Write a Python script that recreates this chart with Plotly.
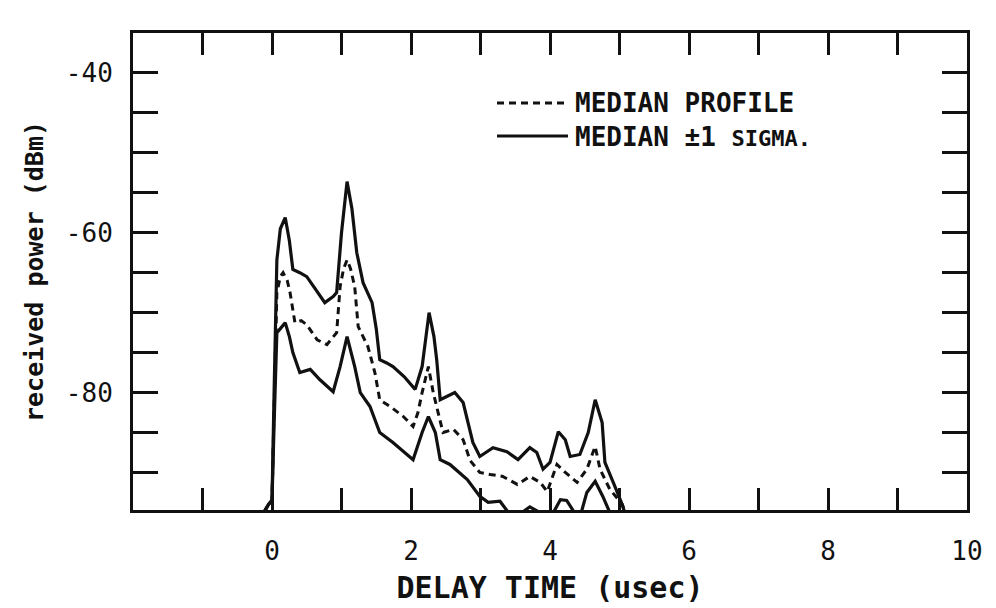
import plotly.graph_objects as go

# ---- data ----
delay_upper = [-0.6, -0.15, -0.05, 0.0, 0.03, 0.07, 0.12, 0.19, 0.25, 0.30, 0.40, 0.50, 0.62, 0.76, 0.88, 0.93,
               1.00, 1.08, 1.15, 1.22, 1.31, 1.44, 1.50, 1.55, 1.65, 1.74, 1.90, 2.06, 2.16, 2.26, 2.33, 2.37,
               2.42, 2.52, 2.63, 2.75, 2.89, 2.99, 3.18, 3.38, 3.54, 3.71, 3.81, 3.90, 4.00, 4.12, 4.22, 4.29,
               4.43, 4.55, 4.65, 4.75, 4.79, 4.91, 5.05, 5.10]
power_upper = [-96, -95.5, -94, -93.5, -80, -63.4, -59.5, -58.1, -61, -64.6, -65, -65.5, -67, -68.75, -68, -67.5,
               -60, -53.6, -57, -62.5, -66.25, -68.75, -72, -75.9, -76.3, -76.75, -78, -79.6, -76.75, -70, -73, -75.9,
               -80.9, -80.5, -80, -81.25, -86.25, -88, -86.9, -87.4, -88.4, -86.9, -87.5, -89.6, -88.75, -84.9, -85.9, -88,
               -87.75, -85, -80.9, -83.75, -88.75, -91.25, -94.25, -96]

delay_median = [-0.6, -0.15, -0.05, 0.0, 0.03, 0.07, 0.12, 0.16, 0.22, 0.26, 0.33, 0.42, 0.50, 0.65, 0.79, 0.93,
                0.98, 1.03, 1.08, 1.13, 1.19, 1.24, 1.38, 1.48, 1.55, 1.70, 1.89, 2.03, 2.10, 2.16, 2.25, 2.32,
                2.39, 2.46, 2.61, 2.75, 2.85, 2.99, 3.14, 3.32, 3.53, 3.71, 3.86, 3.96, 4.10, 4.22, 4.39, 4.53,
                4.65, 4.72, 4.86, 5.04, 5.10]
power_median = [-96, -95.5, -94, -93.5, -82, -67.5, -65.5, -65, -66, -67.5, -71.25, -71, -71.5, -73.4, -74, -72.5,
                -66.75, -64.5, -63.4, -64.5, -66.75, -71.75, -74.25, -77.5, -80.9, -81.75, -83, -84.25, -82.5, -80, -76.75, -80,
                -82.5, -85, -84.6, -85.9, -88.5, -90, -90.25, -90.5, -91.5, -90.5, -91.25, -92.4, -89, -90, -91.25, -89.6,
                -86.75, -89.6, -92.1, -94, -96]

delay_lower = [-0.6, -0.15, -0.05, 0.0, 0.03, 0.07, 0.12, 0.19, 0.25, 0.30, 0.40, 0.55, 0.69, 0.88, 0.98, 1.08,
               1.19, 1.27, 1.41, 1.55, 1.74, 2.03, 2.16, 2.25, 2.35, 2.42, 2.56, 2.75, 2.81, 2.99, 3.11, 3.28,
               3.40, 3.60, 3.71, 3.85, 4.05, 4.15, 4.24, 4.35, 4.45, 4.53, 4.65, 4.76, 4.86, 4.95]
power_lower = [-96, -95.5, -94, -93.5, -84, -72.5, -72, -71.25, -73, -75, -77.5, -77.1, -78.4, -79.9, -76.75, -73,
               -76.75, -80, -81.75, -85, -86.25, -88.4, -85, -83, -85, -88.4, -89, -90.5, -90.9, -93, -93.75, -93.6,
               -95, -95, -94.3, -95, -95, -93.4, -93.5, -95, -95, -92.5, -91.1, -93, -95, -96]

x_tickvals = [-1, 0, 1, 2, 3, 4, 5, 6, 7, 8, 9, 10]
x_ticktext = ["", "0", "", "2", "", "4", "", "6", "", "8", "", "10"]
y_tickvals = [-90, -85, -80, -75, -70, -65, -60, -55, -50, -45, -40]
y_ticktext = ["", "", "-80", "", "", "", "-60", "", "", "", "-40"]

INK = "#111111"
MONO = "DejaVu Sans Mono"

fig = go.Figure()
fig.add_trace(go.Scatter(x=delay_upper, y=power_upper, mode="lines",
                         line=dict(color=INK, width=3.2), name="MEDIAN +1 SIGMA", showlegend=False))
fig.add_trace(go.Scatter(x=delay_median, y=power_median, mode="lines",
                         line=dict(color=INK, width=3, dash="7px,5px"), name="MEDIAN PROFILE", showlegend=False))
fig.add_trace(go.Scatter(x=delay_lower, y=power_lower, mode="lines",
                         line=dict(color=INK, width=3.2), name="MEDIAN -1 SIGMA", showlegend=False))

# page offset of the figure (browser body margin)
OFF = 8
PL, PR, PT, PB = 133, 967, 33, 510  # plot area on the page

def px2paper_x(px):
    return (px - PL) / (PR - PL)

def px2paper_y(py):
    return (PB - py) / (PB - PT)

fig.add_shape(type="line", xref="paper", yref="paper",
              x0=px2paper_x(497), x1=px2paper_x(568), y0=px2paper_y(103), y1=px2paper_y(103),
              line=dict(color=INK, width=3, dash="7px,5px"))
fig.add_shape(type="line", xref="paper", yref="paper",
              x0=px2paper_x(497), x1=px2paper_x(568), y0=px2paper_y(136), y1=px2paper_y(136),
              line=dict(color=INK, width=3))
fig.add_annotation(xref="paper", yref="paper", x=px2paper_x(573), y=px2paper_y(103),
                   xanchor="left", yanchor="middle", showarrow=False,
                   text="<b>MEDIAN PROFILE</b>", font=dict(family=MONO, size=26, color=INK))
fig.add_annotation(xref="paper", yref="paper", x=px2paper_x(573), y=px2paper_y(137),
                   xanchor="left", yanchor="middle", showarrow=False,
                   text="<b>MEDIAN ±1 <span style='font-size:22px'>SIGMA.</span></b>",
                   font=dict(family=MONO, size=26, color=INK))

fig.update_layout(
    width=996, height=608,
    margin=dict(l=PL - OFF, r=996 - PR + OFF, t=PT - OFF, b=608 - PB + OFF, autoexpand=False),
    paper_bgcolor="white", plot_bgcolor="white",
    showlegend=False,
    font=dict(family=MONO, color=INK),
)
fig.update_xaxes(
    range=[-2, 10], tickmode="array", tickvals=x_tickvals, ticktext=x_ticktext,
    ticks="inside", ticklen=22, tickwidth=2.5, tickcolor=INK,
    showline=True, linewidth=3, linecolor=INK, mirror="allticks",
    showgrid=False, zeroline=False, automargin=False,
    tickfont=dict(family=MONO, size=26, color=INK), ticklabelstandoff=16,
    title=dict(text="<b>DELAY TIME (usec)</b>", font=dict(family=MONO, size=30, color=INK), standoff=12),
)
fig.update_yaxes(
    range=[-94.7, -35], tickmode="array", tickvals=y_tickvals, ticktext=y_ticktext,
    ticks="inside", ticklen=25, tickwidth=2.5, tickcolor=INK,
    showline=True, linewidth=3, linecolor=INK, mirror="allticks",
    showgrid=False, zeroline=False, automargin=False,
    tickfont=dict(family=MONO, size=26, color=INK), ticklabelstandoff=12,
    title=dict(text="<b>received power (dBm)</b>", font=dict(family=MONO, size=25, color=INK), standoff=16),
)

fig.write_html("out.html")
